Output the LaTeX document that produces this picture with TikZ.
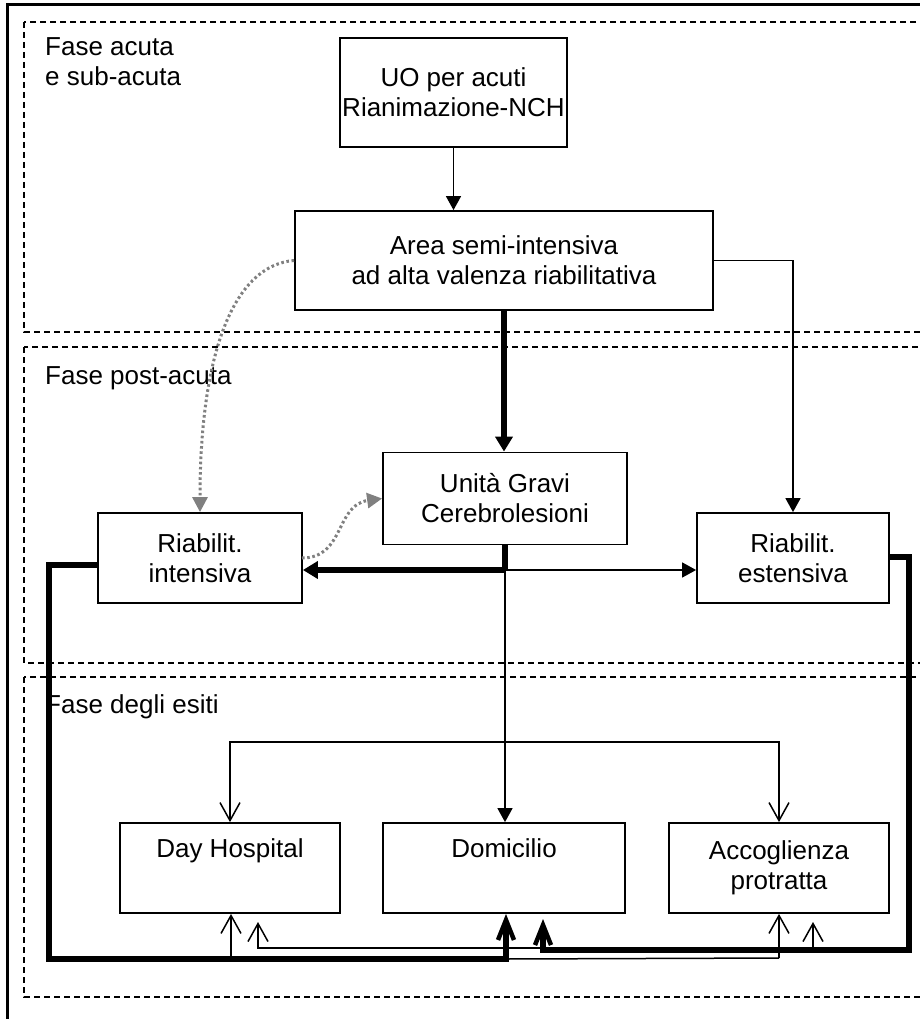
\documentclass[tikz,border=0pt]{standalone}
\usepackage{fontspec}
\setmainfont{Liberation Sans}
\usetikzlibrary{arrows.meta,positioning,calc}
\definecolor{dotgrey}{RGB}{128,128,128}
\begin{document}
\begin{tikzpicture}[x=1pt,y=-1pt,
  box/.style={draw, line width=1.8pt, inner sep=0pt, align=center,
    font=\fontsize{26}{30}\selectfont},
  lbl/.style={anchor=base west, align=left, inner sep=0pt,
    font=\fontsize{26}{30}\selectfont},
  phase/.style={draw, line width=1.2pt, dash pattern=on 6pt off 4pt},
  thinarr/.style={line width=1.5pt, -{Triangle[length=14pt,width=15pt]}},
  thickarr/.style={line width=5.5pt, -{Triangle[length=15pt,width=17pt]}},
  thinline/.style={line width=1.5pt},
  thinV/.style={line width=1.5pt, -{Straight Barb[length=18pt,width=20pt,line width=1.5pt]}},
  thickV/.style={line width=5.5pt, line join=miter, -{Straight Barb[length=20pt,width=16pt,line width=4.5pt]}},
  dotarr/.style={draw=dotgrey, line width=3pt, dash pattern=on 2.6pt off 2.6pt,
    -{Triangle[length=15pt,width=15pt,color=dotgrey]}}
]
\useasboundingbox (0,0) rectangle (920,1019);
\clip (0,0) rectangle (920,1019);

% outer frame
\draw[line width=3pt] (7,1030) -- (7,5) -- (935,5);

% phase areas
\draw[phase] (24,22) rectangle (940,332);
\draw[phase] (24,347) rectangle (940,663);
\draw[phase] (24,677) rectangle (940,997);

% phase labels
\node[lbl] (p1) at (45,86) {Fase acuta\\e sub-acuta};
\node[lbl] (p2) at (45,384) {Fase post-acuta};
\node[lbl] (p3) at (45,713) {Fase degli esiti};

% boxes
\node[box, minimum width=227pt, minimum height=109pt] (uo) at (453.5,92.5) {UO per acuti\\Rianimazione-NCH};
\node[box, minimum width=418pt, minimum height=99pt] (area) at (504,260.5) {Area semi-intensiva\\ad alta valenza riabilitativa};
\node[box, minimum width=244pt, minimum height=92pt] (ugc) at (505,498.5) {Unità Gravi\\Cerebrolesioni};
\node[box, minimum width=204pt, minimum height=90pt] (ri) at (200,558) {Riabilit.\\intensiva};
\node[box, minimum width=192pt, minimum height=90pt] (re) at (793,558) {Riabilit.\\estensiva};
\node[box, minimum width=220pt, minimum height=90pt] (dh) at (230,868) {Day Hospital\\\strut};
\node[box, minimum width=242pt, minimum height=90pt] (dom) at (504,868) {Domicilio\\\strut};
\node[box, minimum width=220pt, minimum height=90pt] (acc) at (779,868) {Accoglienza\\protratta};

% top connectors
\draw[thinarr] (uo.south) -- (uo.south |- area.north);
\draw[thickarr] (area.south) -- (area.south |- ugc.north);
\draw[thinarr] (area.east) -| (re.north);

% dotted grey curves
\draw[dotarr] (area.west) .. controls (235,265) and (200,350) .. (ri.north);
\coordinate (riout) at (302,558);
\draw[dotarr] (riout) .. controls (345,558) and (335,505) .. (ugc.west);

% from UGC
\coordinate (j1) at (505,570);
\draw[line width=5.5pt] (ugc.south) -- (j1);
\draw[thickarr] (j1) -- (ri.east |- j1);
\draw[thinarr] (j1) -- (re.west |- j1);
\draw[thinarr] (j1) -- (j1 |- dom.north);

% bracket to Day Hospital / Accoglienza
\coordinate (jb) at (504,742);
\draw[thinV] (jb) -| (dh.north);
\draw[thinV] (jb) -| (acc.north);

% bottom: from Riabilit. intensiva
\coordinate (l1) at (49,565);
\coordinate (lc1) at (49,959);
\coordinate (lc2) at (506,959);
\coordinate (b1) at (231,959);
\coordinate (b2) at (779,958);
\draw[thinV] (b1) -- (b1 |- dh.south);
\draw[thinline] (lc2) -- (b2);
\draw[thinV] (b2) -- (b2 |- acc.south);
\draw[thickV] (ri.west |- l1) -| (lc1) -- (lc2) -- (lc2 |- dom.south);

% bottom: from Riabilit. estensiva
\coordinate (r1) at (909,557);
\coordinate (rc1) at (909,950);
\coordinate (rc2) at (543,950);
\coordinate (rt) at (543,919);
\coordinate (b3) at (813,950);
\coordinate (b3t) at (813,922);
\coordinate (b4s) at (543,948);
\coordinate (b4) at (258,948);
\coordinate (b4t) at (258,922);
\draw[thinV] (b3) -- (b3t);
\draw[thinV] (b4s) -- (b4) -- (b4t);
\draw[thickV] (re.east |- r1) -- (r1) -- (rc1) -- (rc2) -- (rt);
\end{tikzpicture}
\end{document}
